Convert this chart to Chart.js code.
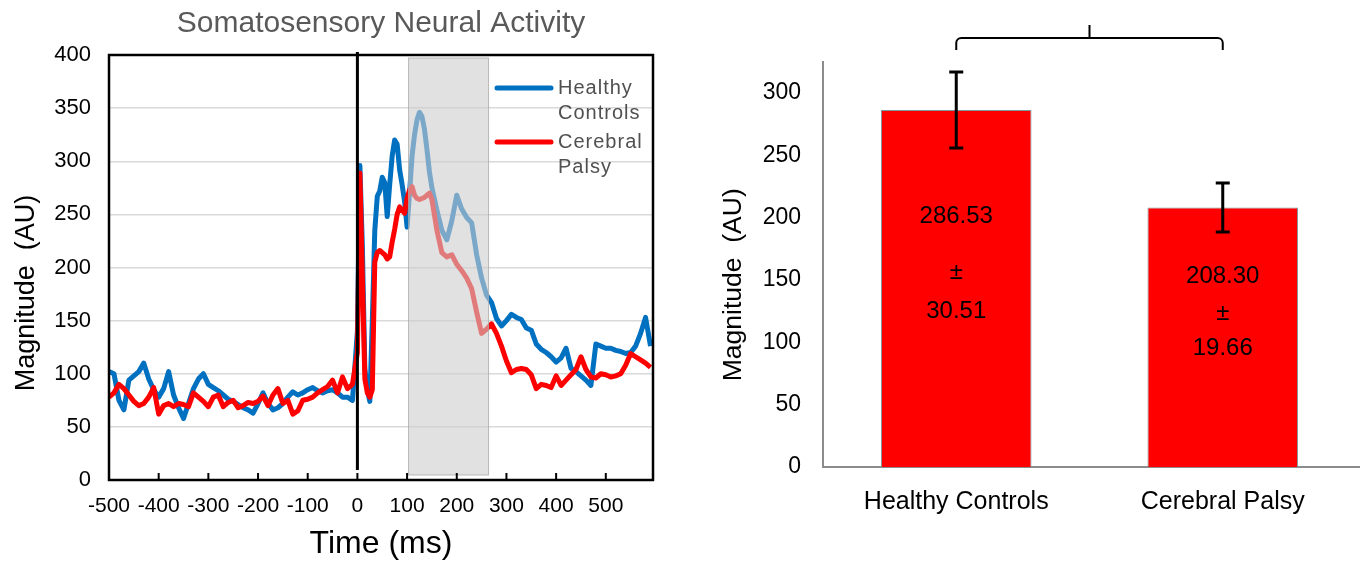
<!DOCTYPE html>
<html>
<head>
<meta charset="utf-8">
<script src="https://cdn.jsdelivr.net/npm/chart.js@4.4.1/dist/chart.umd.min.js"></script>
<style>
  body { margin: 0; background: #fff; width: 1360px; height: 564px; overflow: hidden; position: relative; }
  canvas { position: absolute; top: 0; }
  #timeChart { left: 0; }
  #barChart { left: 680px; }
</style>
</head>
<body>
<canvas id="timeChart" width="680" height="564"></canvas>
<canvas id="barChart" width="680" height="564"></canvas>
<script>
// time axis (ms), finer steps around the response onset
const times = [
  -500, -490, -480, -470, -460, -450, -440, -430, -420, -410,
  -400, -390, -380, -370, -360, -350, -340, -330, -320, -310,
  -300, -290, -280, -270, -260, -250, -240, -230, -220, -210,
  -200, -190, -180, -170, -160, -150, -140, -130, -120, -110,
  -100, -90, -80, -70, -60, -50, -40, -30, -20, -10,
  0, 5, 10, 15, 20, 25, 30, 35, 40, 45,
  50, 55, 60, 65, 70, 75, 80, 85, 90, 95,
  100, 105, 110, 115, 120, 125, 130, 135, 140, 145, 150,
  160, 170, 180, 190, 200, 210, 220, 230, 240, 250,
  260, 270, 280, 290, 300, 310, 320, 330, 340, 350,
  360, 370, 380, 390, 400, 410, 420, 430, 440, 450,
  460, 470, 480, 490, 500, 510, 520, 530, 540, 550,
  560, 570, 580, 590
];

const healthyControls = [
  102, 100, 75, 66, 94, 98, 102, 110, 95, 85,
  78, 86, 102, 80, 68, 58, 72, 86, 95, 100,
  90, 87, 84, 80, 76, 74, 71, 68, 66, 63,
  72, 82, 72, 66, 68, 72, 78, 83, 80, 82,
  85, 87, 84, 82, 84, 85, 82, 78, 78, 75,
  140, 296, 220, 105, 85, 74, 150, 235, 267, 272,
  285, 280, 248, 278, 305, 320, 316, 292, 278, 262,
  238, 270, 305, 325, 339, 346, 342, 330, 311, 290, 275,
  254, 235, 226, 244, 268, 255, 247, 242, 212, 190,
  174, 167, 152, 145, 150, 156, 153, 151, 143, 141,
  128, 123, 120, 116, 111, 115, 124, 105, 102, 98,
  94, 89, 128, 126, 124, 124, 122, 121, 119, 120,
  126, 138, 153, 126
];

const cerebralPalsy = [
  78, 82, 90, 86, 80, 74, 70, 72, 78, 87,
  62, 70, 72, 69, 72, 71, 69, 82, 78, 74,
  69, 78, 80, 69, 73, 75, 68, 70, 73, 72,
  74, 79, 70, 80, 86, 72, 75, 62, 65, 75,
  76, 78, 82, 85, 88, 94, 82, 97, 86, 90,
  120, 289, 190, 95, 82, 78, 85, 205, 214, 216,
  214, 212, 208, 210, 224, 236, 250, 257, 254, 251,
  265, 273, 276, 268, 265, 264, 265, 266, 268, 270, 264,
  235, 214, 210, 212, 203, 197, 190, 180, 158, 138,
  142, 147, 138, 126, 112, 101, 104, 105, 104, 99,
  86, 90, 89, 87, 98, 89, 94, 99, 104, 116,
  104, 97, 96, 100, 99, 97, 98, 100, 108, 119,
  116, 113, 110, 106
];

const timeTicks = [-500, -400, -300, -200, -100, 0, 100, 200, 300, 400, 500];

const groupNames = ["Healthy Controls", "Cerebral Palsy"];
const groupColors = ["#0070C0", "#FF0000"];
const analysisWindow = [103, 264]; // ms, shaded region

// bar panel
const barMeans = [286.53, 208.30];
const barErrors = [30.51, 19.66];

const font = "'Liberation Sans', Arial, sans-serif";
const yTitle = "Magnitude  (AU)";

// rotated y title, sits a little below the middle of the axis in the original
function drawYTitle(ctx, x, y, size) {
  ctx.save();
  ctx.translate(x, y);
  ctx.rotate(-Math.PI / 2);
  ctx.fillStyle = "#000";
  ctx.font = size + "px " + font;
  ctx.textAlign = "center";
  ctx.textBaseline = "middle";
  ctx.fillText(yTitle, 0, 0);
  ctx.restore();
}

// ---------- left: time course ----------
const timePlugin = {
  id: "timeDecor",
  beforeDraw(chart) {
    const ctx = chart.ctx;
    const area = chart.chartArea;
    ctx.save();
    ctx.fillStyle = "#595959";
    ctx.font = "30px " + font;
    ctx.textAlign = "center";
    ctx.textBaseline = "middle";
    ctx.fillText("Somatosensory Neural Activity", (area.left + area.right) / 2, 24);
    ctx.restore();
    drawYTitle(ctx, 27, area.top + (area.bottom - area.top) * 0.56, 27);
  },
  afterDatasetsDraw(chart) {
    const ctx = chart.ctx;
    const area = chart.chartArea;
    const x = chart.scales.x;
    const x0 = x.getPixelForValue(analysisWindow[0]);
    const x1 = x.getPixelForValue(analysisWindow[1]);
    ctx.save();
    ctx.fillStyle = "rgba(205,205,205,0.6)";
    ctx.fillRect(x0, area.top + 3, x1 - x0, area.bottom - area.top - 8);
    ctx.strokeStyle = "rgba(170,170,170,0.8)";
    ctx.lineWidth = 1;
    ctx.strokeRect(x0, area.top + 3, x1 - x0, area.bottom - area.top - 8);
    ctx.restore();
  },
  afterDraw(chart) {
    const ctx = chart.ctx;
    const area = chart.chartArea;
    const x = chart.scales.x;
    ctx.save();
    // tick marks inside the bottom border
    ctx.strokeStyle = "#000";
    ctx.lineWidth = 2;
    x.ticks.forEach(t => {
      if (t.value <= x.min) return;
      const px = x.getPixelForValue(t.value);
      ctx.beginPath();
      ctx.moveTo(px, area.bottom);
      ctx.lineTo(px, area.bottom - 7);
      ctx.stroke();
    });
    // stimulus onset
    const zx = x.getPixelForValue(0);
    ctx.lineWidth = 3;
    ctx.beginPath();
    ctx.moveTo(zx, area.top - 3);
    ctx.lineTo(zx, area.bottom - 10);
    ctx.stroke();
    // frame
    ctx.lineWidth = 2.5;
    ctx.strokeRect(area.left, area.top, area.right - area.left, area.bottom - area.top);

    // legend
    ctx.font = "20px " + font;
    ctx.letterSpacing = "1px";
    ctx.textAlign = "left";
    ctx.textBaseline = "middle";
    ctx.fillStyle = "#505050";
    chart.data.datasets.forEach((ds, i) => {
      const y = area.top + 33 + i * 54;
      ctx.strokeStyle = ds.borderColor;
      ctx.lineWidth = 5;
      ctx.lineCap = "round";
      ctx.beginPath();
      ctx.moveTo(area.right - 156, y);
      ctx.lineTo(area.right - 102, y);
      ctx.stroke();
      ds.label.split(" ").forEach((word, j) => {
        ctx.fillText(word, area.right - 95, y + j * 25);
      });
    });
    ctx.restore();
  }
};

new Chart(document.getElementById("timeChart"), {
  type: "line",
  data: {
    datasets: [
      {
        label: groupNames[0],
        data: times.map((t, i) => ({ x: t, y: healthyControls[i] })),
        borderColor: groupColors[0],
        borderWidth: 5,
        pointRadius: 0,
        borderJoinStyle: "round",
        order: 2
      },
      {
        label: groupNames[1],
        data: times.map((t, i) => ({ x: t, y: cerebralPalsy[i] })),
        borderColor: groupColors[1],
        borderWidth: 5,
        pointRadius: 0,
        borderJoinStyle: "round",
        order: 1
      }
    ]
  },
  options: {
    responsive: false,
    animation: false,
    layout: { padding: { top: 55, right: 27, left: 0, bottom: 0 } },
    plugins: { legend: { display: false }, tooltip: { enabled: false } },
    scales: {
      x: {
        type: "linear",
        min: -500,
        max: 595,
        grid: { display: false, drawTicks: false },
        border: { display: false },
        ticks: {
          padding: 14,
          autoSkip: false,
          maxRotation: 0,
          color: "#000",
          font: { family: font, size: 21 }
        },
        afterBuildTicks: axis => {
          axis.ticks = timeTicks.map(v => ({ value: v }));
        },
        afterFit: axis => { axis.height = 84; },
        title: {
          display: true,
          text: "Time (ms)",
          color: "#000",
          font: { family: font, size: 32 },
          padding: { top: 0, bottom: 1 }
        }
      },
      y: {
        min: 0,
        max: 400,
        grid: { color: "#d9d9d9", lineWidth: 1.5, drawTicks: false },
        border: { display: false },
        ticks: {
          stepSize: 50,
          padding: 18,
          color: "#000",
          font: { family: font, size: 22 }
        },
        afterFit: axis => { axis.width = 109; }
      }
    }
  },
  plugins: [timePlugin]
});

// ---------- right: mean magnitude ----------
const barPlugin = {
  id: "barDecor",
  beforeDraw(chart) {
    const a = chart.chartArea;
    drawYTitle(chart.ctx, 54, a.top + (a.bottom - a.top) * 0.55, 26.5);
  },
  afterDatasetsDraw(chart) {
    const ctx = chart.ctx;
    const y = chart.scales.y;
    const bars = chart.getDatasetMeta(0).data;
    // where each bar's three label lines sit, in axis units
    const labelAnchors = [[201, 156, 125], [153, 123, 95]];
    ctx.save();
    bars.forEach((bar, i) => {
      const top = y.getPixelForValue(barMeans[i] + barErrors[i]);
      const bottom = y.getPixelForValue(barMeans[i] - barErrors[i]);
      ctx.strokeStyle = "#000";
      ctx.lineWidth = 3;
      ctx.beginPath();
      ctx.moveTo(bar.x, top);
      ctx.lineTo(bar.x, bottom);
      ctx.moveTo(bar.x - 7, top);
      ctx.lineTo(bar.x + 7, top);
      ctx.moveTo(bar.x - 7, bottom);
      ctx.lineTo(bar.x + 7, bottom);
      ctx.stroke();

      ctx.fillStyle = "#000";
      ctx.font = "24px " + font;
      ctx.textAlign = "center";
      ctx.textBaseline = "middle";
      const lines = [barMeans[i].toFixed(2), "\u00b1", barErrors[i].toFixed(2)];
      lines.forEach((txt, j) => {
        ctx.fillText(txt, bar.x, y.getPixelForValue(labelAnchors[i][j]));
      });
    });

    // comparison bracket
    const a = chart.chartArea;
    const xl = bars[0].x, xr = bars[1].x, xm = (xl + xr) / 2;
    const yb = a.top - 24;
    ctx.strokeStyle = "#000";
    ctx.lineWidth = 2;
    ctx.beginPath();
    ctx.moveTo(xl, a.top - 12);
    ctx.arcTo(xl, yb, xl + 6, yb, 5);
    ctx.lineTo(xr - 6, yb);
    ctx.arcTo(xr, yb, xr, a.top - 12, 5);
    ctx.lineTo(xr, a.top - 12);
    ctx.moveTo(xm, yb);
    ctx.lineTo(xm, yb - 13);
    ctx.stroke();
    ctx.restore();
  },
  afterDraw(chart) {
    // the baseline runs on to the edge of the figure
    const ctx = chart.ctx;
    const a = chart.chartArea;
    ctx.save();
    ctx.strokeStyle = "#8c8c8c";
    ctx.lineWidth = 2;
    ctx.beginPath();
    ctx.moveTo(a.right, a.bottom);
    ctx.lineTo(chart.width, a.bottom);
    ctx.stroke();
    ctx.restore();
  }
};

new Chart(document.getElementById("barChart"), {
  type: "bar",
  data: {
    labels: groupNames,
    datasets: [{
      data: barMeans,
      backgroundColor: "#FF0000",
      borderColor: "#7b9aa0",
      borderWidth: 1,
      barPercentage: 0.565,
      categoryPercentage: 1
    }]
  },
  options: {
    responsive: false,
    animation: false,
    layout: { padding: { top: 62, right: 4, left: 0, bottom: 0 } },
    plugins: { legend: { display: false }, tooltip: { enabled: false } },
    scales: {
      x: {
        grid: { display: false, drawTicks: false },
        border: { display: true, color: "#8c8c8c", width: 2 },
        ticks: { padding: 20, color: "#000", font: { family: font, size: 25 } },
        afterFit: axis => { axis.height = 97; }
      },
      y: {
        min: 0,
        max: 325,
        grid: { display: false, drawTicks: false },
        border: { display: true, color: "#8c8c8c", width: 2 },
        ticks: {
          stepSize: 50,
          padding: 22,
          color: "#000",
          font: { family: font, size: 23 }
        },
        afterBuildTicks: axis => {
          axis.ticks = axis.ticks.filter(t => t.value % 50 === 0);
        },
        afterFit: axis => { axis.width = 143; }
      }
    }
  },
  plugins: [barPlugin]
});
</script>
</body>
</html>
